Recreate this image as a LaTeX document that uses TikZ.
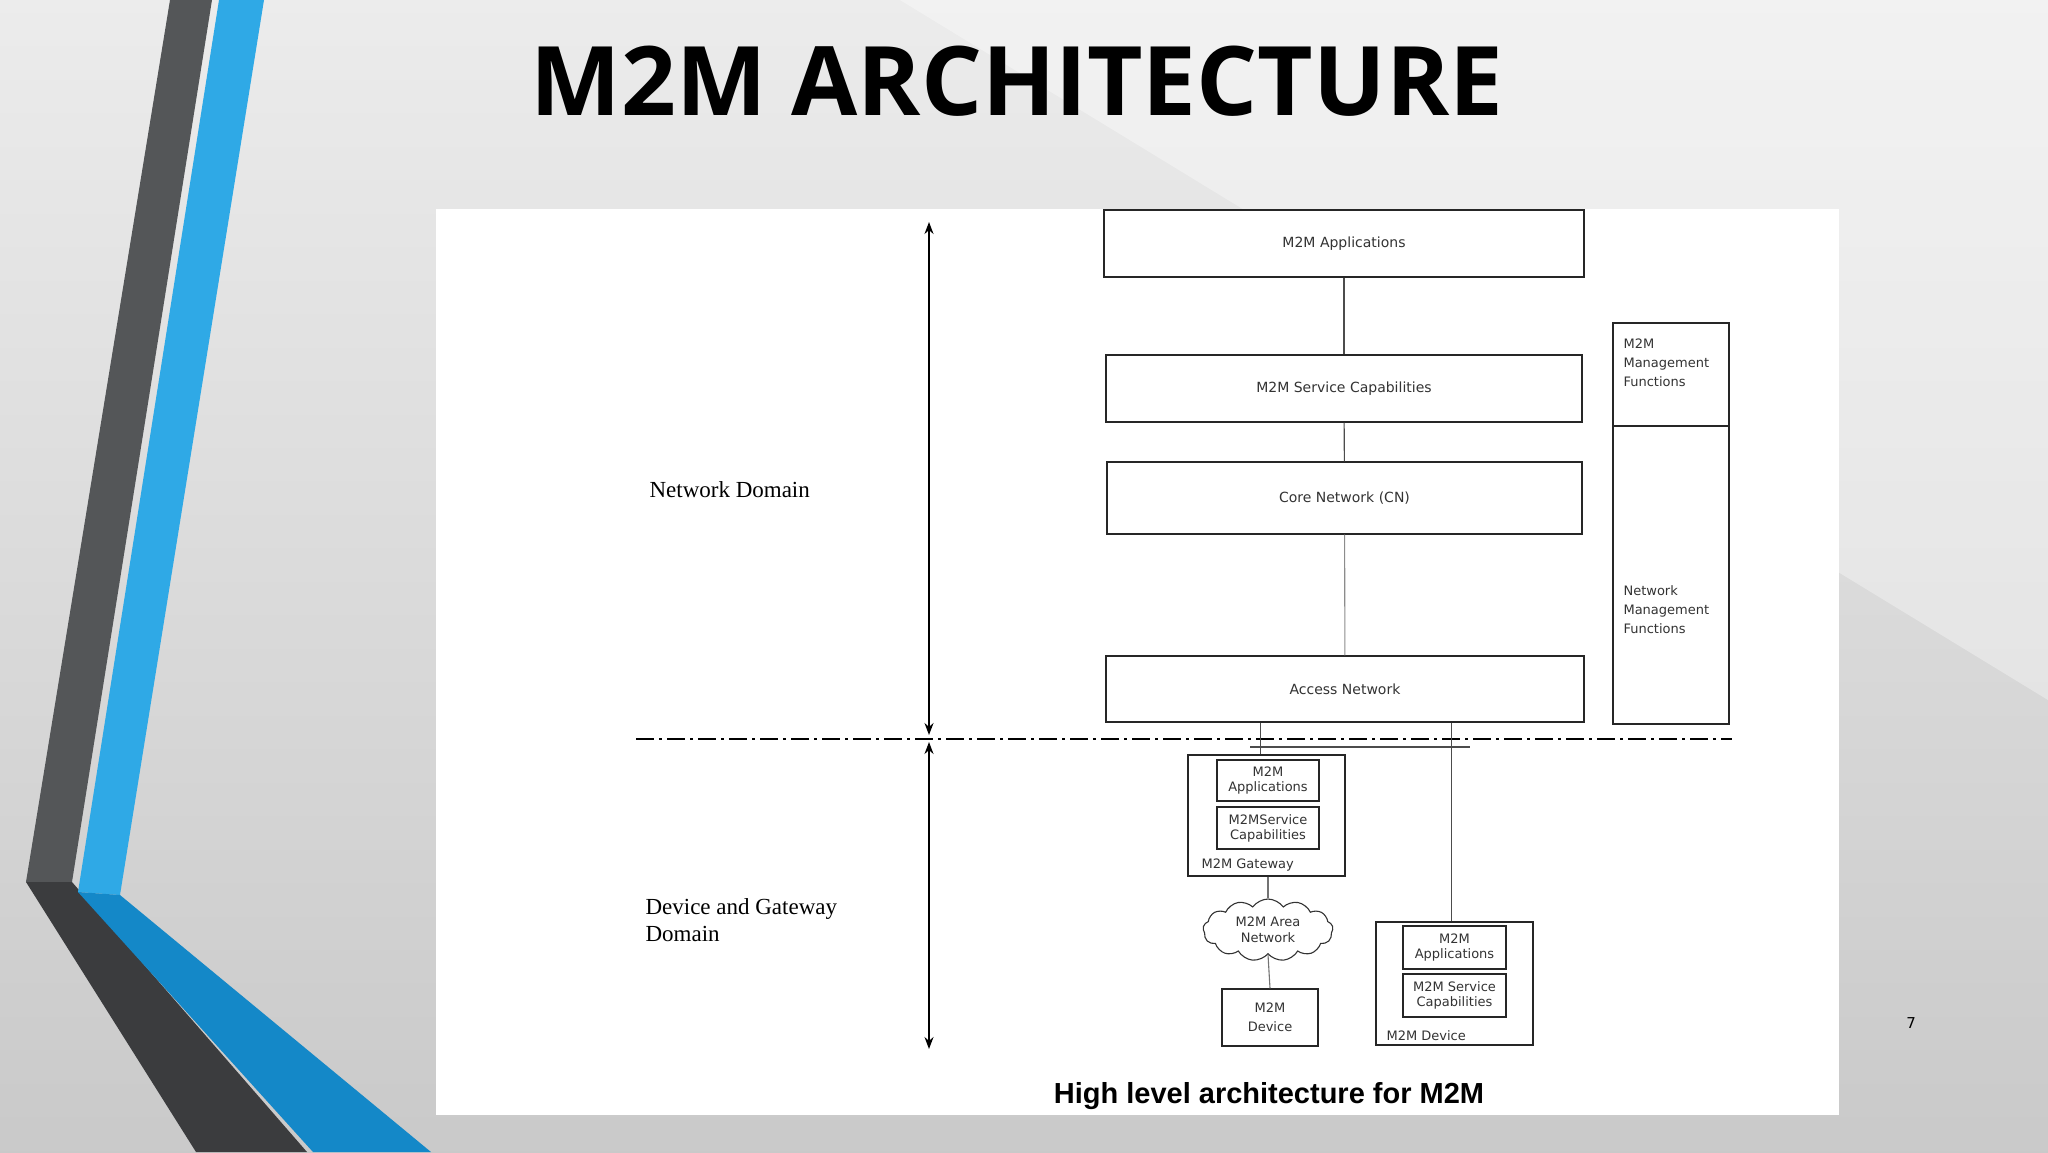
\documentclass[tikz,border=0pt]{standalone}
\usepackage{fontspec}
\setmainfont{DejaVu Sans}
\newfontfamily\titlefont{Open Sans}
\newfontfamily\serifc{Liberation Serif}
\newfontfamily\capfont{Liberation Sans}
\usetikzlibrary{shapes.symbols,arrows.meta}
\definecolor{darkband}{HTML}{545658}
\definecolor{darkband2}{HTML}{3B3C3E}
\definecolor{blueband}{HTML}{2FA9E6}
\definecolor{blueband2}{HTML}{1488C8}
\begin{document}
\begin{tikzpicture}[x=1pt,y=-1pt,
  box/.style={draw=black!85,line width=1.3pt,inner sep=0pt,font=\fontsize{14}{17}\selectfont,text=black!80},
  ibox/.style={draw=black!85,line width=1.2pt,inner sep=0pt,font=\fontsize{13}{15}\selectfont,text=black!80,align=center},
  ln/.style={draw=black!70,line width=1.1pt},
  dom/.style={font=\serifc\fontsize{23}{27}\selectfont,anchor=west,align=left}]
\useasboundingbox (0,0) rectangle (2048,1152);
\shade[top color=gray!15,bottom color=gray!42] (0,0) rectangle (2048,1152);
\fill[white,opacity=0.35] (2048,0) -- (900,0) -- (2048,700) -- cycle;
% bands
\fill[darkband] (170,0) -- (212,0) -- (72,882) -- (26,882) -- cycle;
\fill[darkband2] (26,882) -- (72,882) -- (307,1152) -- (196,1152) -- cycle;
\fill[blueband] (219,0) -- (264,0) -- (120,895) -- (78,892) -- cycle;
\fill[blueband2] (78,892) -- (120,895) -- (431,1152) -- (313,1152) -- cycle;
% title
\node[font=\titlefont\bfseries\fontsize{96}{100}\selectfont] (title) at (1017,81) {M2M ARCHITECTURE};
% panel
\fill[white] (436,209) rectangle (1839,1115);
% boxes
\node[box,minimum width=480,minimum height=67] (app) at (1344,243.5) {M2M Applications};
\node[box,minimum width=476,minimum height=67] (sc) at (1344,388.5) {M2M Service Capabilities};
\node[box,minimum width=475,minimum height=72] (cn) at (1344.5,498) {Core Network (CN)};
\node[box,minimum width=478,minimum height=66] (an) at (1345,689) {Access Network};
\node[box,minimum width=116,minimum height=103,align=left,font=\fontsize{13}{19}\selectfont] (mf) at (1671,374.5) {};
\node[align=left,anchor=north west,font=\fontsize{13}{19}\selectfont,text=black!80] (mft) at (1620,335) {M2M\\Management\\Functions};
\node[box,minimum width=116,minimum height=298] (nf) at (1671,575) {};
\node[align=left,anchor=west,font=\fontsize{13}{19}\selectfont,text=black!80] (nft) at (1620,610) {Network\\Management\\Functions};
\draw[ln] (app) -- (sc);
\draw[ln] (sc) -- (cn);
\draw[ln,draw=black!45] (cn) -- (an);
% domains
\coordinate (atop) at (929,222);
\coordinate (amid1) at (929,735);
\coordinate (amid2) at (929,742);
\coordinate (abot) at (929,1049);
\draw[line width=1.6pt,{Stealth[length=12pt,width=9pt]}-{Stealth[length=12pt,width=9pt]}] (atop) -- (amid1);
\draw[line width=1.6pt,{Stealth[length=12pt,width=9pt]}-{Stealth[length=12pt,width=9pt]}] (amid2) -- (abot);
\coordinate (dl) at (636,739);
\coordinate (dr) at (1732,739);
\draw[line width=1.3pt,dash pattern=on 18pt off 5pt on 3pt off 5pt] (dl) -- (dr);
\node[dom] (nd) at (646,490) {Network Domain};
\node[dom] (dgd) at (642,920) {Device and Gateway\\Domain};
% gateway
\node[box,minimum width=157,minimum height=121] (gw) at (1266.5,815.5) {};
\node[ibox,minimum width=102,minimum height=41] (ga) at (1268,780.5) {M2M\\Applications};
\node[ibox,minimum width=102,minimum height=42] (gs) at (1268,828) {M2MService\\Capabilities};
\node[anchor=west,font=\fontsize{13}{15}\selectfont,text=black!80] (gwl) at (1198,865) {M2M Gateway};
\node[cloud,draw=black!80,line width=1.1pt,cloud puffs=13,cloud puff arc=110,aspect=2.2,minimum width=130,minimum height=62,inner sep=0pt,align=center,font=\fontsize{13}{16}\selectfont,text=black!80] (cl) at (1268,930) {M2M Area\\Network};
\node[box,minimum width=96,minimum height=57,align=center,font=\fontsize{13}{19}\selectfont] (md) at (1270,1017.5) {M2M\\Device};
% device
\node[box,minimum width=157,minimum height=123] (dv) at (1454.5,983.5) {};
\node[ibox,minimum width=103,minimum height=43] (da) at (1454.5,947.5) {M2M\\Applications};
\node[ibox,minimum width=103,minimum height=43] (ds) at (1454.5,995.5) {M2M Service\\Capabilities};
\node[anchor=west,font=\fontsize{13}{15}\selectfont,text=black!80] (dvl) at (1383,1036) {M2M Device};
% connectors
\draw[ln] (an.south -| gw.north) ++(-6,0) coordinate (g1) -- (g1 |- gw.north);
\draw[ln] (an.south -| dv.north) ++(-3,0) coordinate (d1) -- (d1 |- dv.north);
\coordinate (hl) at (1250,747);
\coordinate (hr) at (1470,747);
\draw[ln] (hl) -- (hr);
\draw[ln,draw=black!55] (gw.south -| cl.north) -- (cl.north);
\draw[ln,draw=black!55] (cl.south) -- (md.north);
% caption
\node[font=\capfont\bfseries\fontsize{29}{32}\selectfont] (cap) at (1269,1096) {High level architecture for M2M};
\node[font=\fontsize{15}{18}\selectfont] (pn) at (1911,1023) {7};
\end{tikzpicture}
\end{document}
